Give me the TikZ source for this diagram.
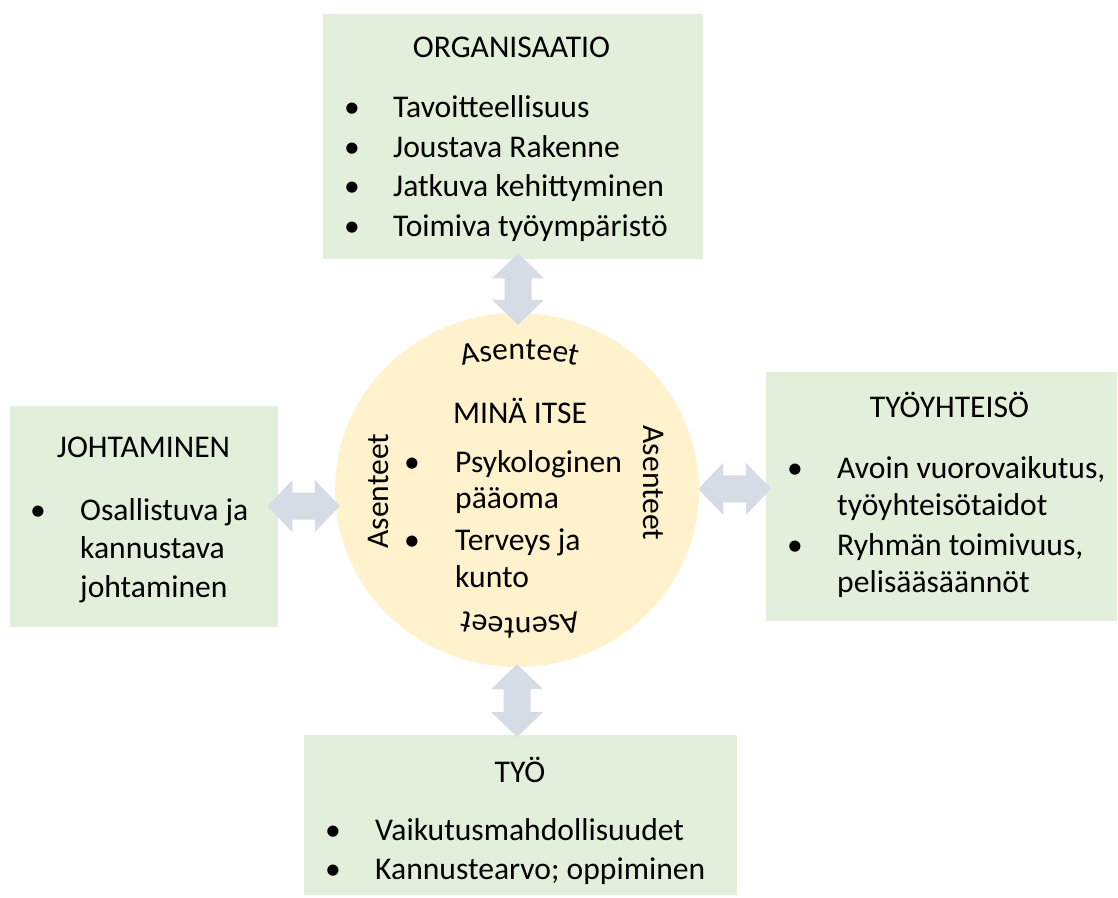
\documentclass[tikz,border=0pt]{standalone}
\usepackage{fontspec}
\setmainfont{Carlito}
\usetikzlibrary{shapes.geometric,calc,decorations.text}
\definecolor{boxfill}{HTML}{E2EFDA}
\definecolor{circfill}{HTML}{FFF2CC}
\definecolor{arrfill}{HTML}{D6DCE5}
\newcommand\txtsize{\fontsize{31.6}{38}\selectfont}
% double block arrow between two coordinates
\newcommand\dblarrow[2]{%
  \fill[arrfill] let \p1=(#1), \p2=(#2),
     \n1={atan2(\y2-\y1,\x2-\x1)}, \n2={veclen(\x2-\x1,\y2-\y1)} in
     [shift={(\p1)}, rotate=\n1]
     (0,0) -- (25,26) -- (25,13.5) -- (\n2-25,13.5) -- (\n2-25,26) -- (\n2,0)
     -- (\n2-25,-26) -- (\n2-25,-13.5) -- (25,-13.5) -- (25,-26) -- cycle;}
\begin{document}
\begin{tikzpicture}[x=1pt,y=-1pt,
  box/.style={fill=boxfill, draw=none, inner sep=0, anchor=north west},
  title/.style={font=\txtsize, inner sep=0, anchor=base},
  item/.style={font=\txtsize, inner sep=0, anchor=base west},
  bul/.style={font=\txtsize, inner sep=0, anchor=base},
  side/.style={font=\txtsize, inner sep=0}]
\useasboundingbox (0,0) rectangle (1118,897);
\fill[white] (0,0) rectangle (1118,897);

% boxes
\node[box, minimum width=380, minimum height=245] (org) at (323,14) {};
\node[box, minimum width=268, minimum height=221] (joh) at (10,406) {};
\node[box, minimum width=351, minimum height=249] (tyy) at (766,372) {};
\node[box, minimum width=433, minimum height=160] (tyo) at (304,735) {};
\node[ellipse, fill=circfill, minimum width=364, minimum height=354, inner sep=0] (self) at (517,490) {};

% arrows
\coordinate (a1) at ($(org.south)+(5,-6)$);
\coordinate (a2) at ($(self.north)+(1,12)$);
\coordinate (b1) at ($(joh.east)+(-11,-10.5)$);
\coordinate (b2) at ($(self.west)+(5,16)$);
\coordinate (c1) at ($(self.east)+(-1,-1)$);
\coordinate (c2) at ($(tyy.west)+(5,-8)$);
\coordinate (d1) at ($(self.south)+(0,-3)$);
\coordinate (d2) at ($(tyo.north)+(-3.5,2)$);
\dblarrow{a1}{a2}
\dblarrow{b1}{b2}
\dblarrow{c1}{c2}
\dblarrow{d1}{d2}

% ORGANISAATIO
\node[title] (orgt) at (511.5,57) {ORGANISAATIO};
\node[bul] (ob1) at (352,117) {•};
\node[bul] (ob2) at (352,157) {•};
\node[bul] (ob3) at (352,196) {•};
\node[bul] (ob4) at (352,236) {•};
\node[item] (oi1) at (393,117) {Tavoitteellisuus};
\node[item] (oi2) at (393,157) {Joustava Rakenne};
\node[item] (oi3) at (393,196) {Jatkuva kehittyminen};
\node[item] (oi4) at (393,236) {Toimiva työympäristö};

% JOHTAMINEN
\node[title] (joht) at (143.5,457) {JOHTAMINEN};
\node[bul] (jb1) at (38,520) {•};
\node[item] (ji1) at (80,520) {Osallistuva ja};
\node[item] (ji2) at (80,558) {kannustava};
\node[item] (ji3) at (80,597) {johtaminen};

% TYÖYHTEISÖ
\node[title] (tyyt) at (949.5,417) {TYÖYHTEISÖ};
\node[bul] (yb1) at (795,478) {•};
\node[bul] (yb2) at (795,555) {•};
\node[item] (yi1) at (837,478) {Avoin vuorovaikutus,};
\node[item] (yi2) at (837,515) {työyhteisötaidot};
\node[item] (yi3) at (837,555) {Ryhmän toimivuus,};
\node[item] (yi4) at (837,592) {pelisääsäännöt};

% TYÖ
\node[title] (tyot) at (520,782) {TYÖ};
\node[bul] (tb1) at (333,840) {•};
\node[bul] (tb2) at (333,879) {•};
\node[item] (ti1) at (375,840) {Vaikutusmahdollisuudet};
\node[item] (ti2) at (375,879) {Kannustearvo; oppiminen};

% MINÄ ITSE
\node[title] (selft) at (520,423) {MINÄ ITSE};
\node[bul] (sb1) at (412,472) {•};
\node[bul] (sb2) at (412,550) {•};
\node[item] (si1) at (455,472) {Psykologinen};
\node[item] (si2) at (455,508) {pääoma};
\node[item] (si3) at (455,550) {Terveys ja};
\node[item] (si4) at (455,587) {kunto};

% Asenteet around the circle (arcs of radius 250)
\path[decorate, decoration={text along path, text align=center,
   text={|\txtsize|Asenteet}}] (395,392.5) arc[start angle=240, end angle=300, radius=250];
\path[decorate, decoration={text along path, text align=center,
   text={|\txtsize|Asenteet}}] (645,584.5) arc[start angle=60, end angle=120, radius=250];
\node[side, rotate=90] (asl) at (378,491) {Asenteet};
\node[side, rotate=-90] (asr) at (654,483) {Asenteet};
\end{tikzpicture}
\end{document}
